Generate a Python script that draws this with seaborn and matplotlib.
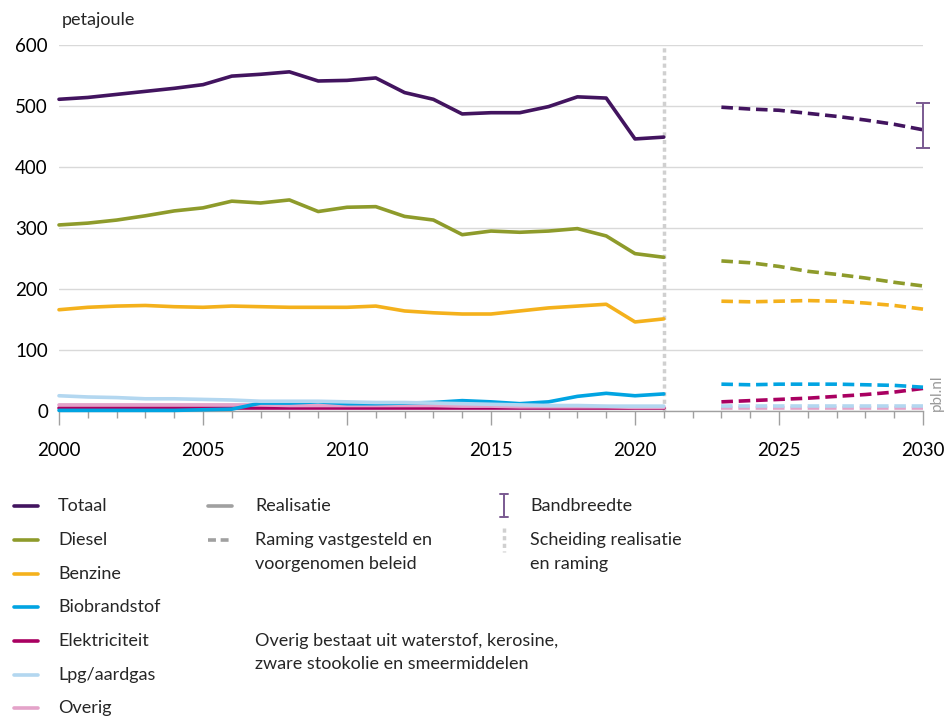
import numpy as np
import pandas as pd
import matplotlib
matplotlib.use("Agg")
import matplotlib.pyplot as plt
from matplotlib.lines import Line2D
import seaborn as sns

# ---------------- data ----------------
years_real = list(range(2000, 2022))
years_proj = list(range(2023, 2031))

totaal_real = [511, 514, 519, 524, 529, 535, 549, 552, 556, 541, 542, 546, 522, 511, 487, 489,
               489, 499, 515, 513, 446, 449]
diesel_real = [305, 308, 313, 320, 328, 333, 344, 341, 346, 327, 334, 335, 319, 313, 289, 295,
               293, 295, 299, 287, 258, 252]
benzine_real = [166, 170, 172, 173, 171, 170, 172, 171, 170, 170, 170, 172, 164, 161, 159, 159,
                164, 169, 172, 175, 146, 151]
bio_real = [1, 1, 1, 1, 1, 2, 3, 13, 13, 15, 12, 12, 13, 14, 17, 15, 12, 15, 24, 29, 25, 28]
elek_real = [5, 5, 5, 5, 5, 5, 5, 5, 5, 5, 5, 5, 5, 5, 5, 5, 5, 5, 5, 5, 5, 5]
lpg_real = [25, 23, 22, 20, 20, 19, 18, 16, 16, 16, 15, 14, 14, 13, 12, 11, 10, 9, 9, 8, 8, 8]
overig_real = [10, 10, 10, 10, 10, 10, 10, 10, 9, 9, 9, 9, 9, 9, 8, 8, 7, 7, 7, 7, 6, 6]

totaal_proj = [498, 495, 493, 488, 483, 477, 470, 461]
diesel_proj = [246, 243, 237, 229, 224, 218, 211, 205]
benzine_proj = [180, 179, 180, 181, 180, 177, 173, 167]
bio_proj = [44, 43, 44, 44, 44, 43, 42, 39]
elek_proj = [15, 17, 19, 21, 24, 27, 31, 37]
lpg_proj = [9, 9, 9, 9, 9, 9, 9, 9]
overig_proj = [5, 5, 5, 5, 5, 5, 5, 5]

band_year = 2030
band_low = 431
band_high = 505
band_mid = 461

separation_year = 2021

series_names = ["Totaal", "Diesel", "Benzine", "Biobrandstof", "Elektriciteit", "Lpg/aardgas", "Overig"]
colors = ["#42145f", "#8e9b2b", "#f4b11c", "#01a4e2", "#a90061", "#b3d7f0", "#e4a3c9"]

real = [totaal_real, diesel_real, benzine_real, bio_real, elek_real, lpg_real, overig_real]
proj = [totaal_proj, diesel_proj, benzine_proj, bio_proj, elek_proj, lpg_proj, overig_proj]

yticks = [0, 100, 200, 300, 400, 500, 600]
xticks_major = [2000, 2005, 2010, 2015, 2020, 2025, 2030]

# ---------------- figure ----------------
sns.set_style("white")
plt.rcParams['font.family'] = ['Lato', 'DejaVu Sans']

fig = plt.figure(figsize=(9.46, 7.17), dpi=100)
W, H = 946, 717
ax = fig.add_axes([59 / W, 1 - 411 / H, (923 - 59) / W, (411 - 45) / H])

# draw order: small ones first, totaal last
order = [4, 6, 3, 5, 2, 1, 0]
for i in order:
    df_r = pd.DataFrame({"jaar": years_real, "pj": real[i]})
    df_p = pd.DataFrame({"jaar": years_proj, "pj": proj[i]})
    sns.lineplot(data=df_r, x="jaar", y="pj", color=colors[i], lw=2.6, ax=ax,
                 clip_on=False, zorder=3)
    sns.lineplot(data=df_p, x="jaar", y="pj", color=colors[i], lw=2.6, ax=ax,
                 clip_on=False, zorder=3)
    ax.lines[-1].set_dashes([3.2, 1.6])

# bandbreedte
ax.errorbar([band_year], [band_mid], yerr=[[band_mid - band_low], [band_high - band_mid]],
            fmt="none", ecolor="#7a5a92", elinewidth=1.4, capsize=5, capthick=1.4,
            clip_on=False, zorder=4)

# separation line
ax.axvline(separation_year, ymin=0, ymax=1, color="#d0d0d0", lw=2.5,
           linestyle=(0, (1.2, 1.0)), zorder=2, clip_on=False)

ax.set_xlim(2000, 2030)
ax.set_ylim(0, 600)
ax.set_yticks(yticks)
ax.set_yticklabels([str(v) for v in yticks], fontsize=13.5, color="#000000")
ax.set_xticks(xticks_major)
ax.set_xticklabels([str(v) for v in xticks_major], fontsize=13.5, color="#000000")
ax.set_xticks(list(range(2000, 2031)), minor=True)
ax.set_xlabel("")
ax.set_ylabel("")
ax.grid(axis="y", color="#d9d9d9", lw=1.0)
ax.grid(axis="x", visible=False)
for s in ["top", "right", "left"]:
    ax.spines[s].set_visible(False)
ax.spines["bottom"].set_color("#a0a0a0")
ax.spines["bottom"].set_linewidth(1.0)
ax.tick_params(axis="x", which="major", length=10, width=1, color="#a0a0a0", pad=12, bottom=True)
ax.tick_params(axis="x", which="minor", length=5, width=1, color="#a0a0a0", bottom=True)
ax.tick_params(axis="y", length=0, pad=8)

fig.text(62 / W, 1 - 20 / H, "petajoule", fontsize=13, va="center", ha="left")
fig.text(937 / W, 1 - 393 / H, "pbl.nl", fontsize=11, color="#9a9a9a", rotation=90,
         va="center", ha="center")

# ---------------- legend ----------------
leg_font = 13
rows_y = [506, 540, 574, 607, 641, 675, 708]
for name, c, yy in zip(series_names, colors, rows_y):
    fig.add_artist(Line2D([14 / W, 38 / W], [1 - yy / H, 1 - yy / H], color=c, lw=2.6,
                          transform=fig.transFigure))
    fig.text(58 / W, 1 - yy / H, name, fontsize=leg_font, va="center", ha="left")

fig.add_artist(Line2D([208 / W, 232 / W], [1 - 506 / H, 1 - 506 / H], color="#a0a0a0", lw=2.6,
                      transform=fig.transFigure))
fig.text(255 / W, 1 - 506 / H, "Realisatie", fontsize=leg_font, va="center", ha="left")
l2 = Line2D([208 / W, 232 / W], [1 - 540 / H, 1 - 540 / H], color="#a0a0a0", lw=2.6,
            transform=fig.transFigure)
l2.set_dashes([2.2, 1.3])
fig.add_artist(l2)
fig.text(255 / W, 1 - 540 / H, "Raming vastgesteld en", fontsize=leg_font, va="center", ha="left")
fig.text(255 / W, 1 - 564 / H, "voorgenomen beleid", fontsize=leg_font, va="center", ha="left")

# bandbreedte legend symbol
bx = 504 / W
fig.add_artist(Line2D([bx, bx], [1 - 494 / H, 1 - 517 / H], color="#7a5a92", lw=1.4,
                      transform=fig.transFigure))
for yy in (494, 517):
    fig.add_artist(Line2D([bx - 4 / W, bx + 4 / W], [1 - yy / H, 1 - yy / H], color="#7a5a92",
                          lw=1.4, transform=fig.transFigure))
fig.text(530 / W, 1 - 506 / H, "Bandbreedte", fontsize=leg_font, va="center", ha="left")
fig.add_artist(Line2D([bx, bx], [1 - 528 / H, 1 - 552 / H], color="#d0d0d0", lw=2.5,
                      linestyle=(0, (1.2, 1.0)), transform=fig.transFigure))
fig.text(530 / W, 1 - 540 / H, "Scheiding realisatie", fontsize=leg_font, va="center", ha="left")
fig.text(530 / W, 1 - 564 / H, "en raming", fontsize=leg_font, va="center", ha="left")

fig.text(255 / W, 1 - 641 / H, "Overig bestaat uit waterstof, kerosine,", fontsize=leg_font,
         va="center", ha="left")
fig.text(255 / W, 1 - 664 / H, "zware stookolie en smeermiddelen", fontsize=leg_font,
         va="center", ha="left")

fig.savefig("out.png", dpi=100)
